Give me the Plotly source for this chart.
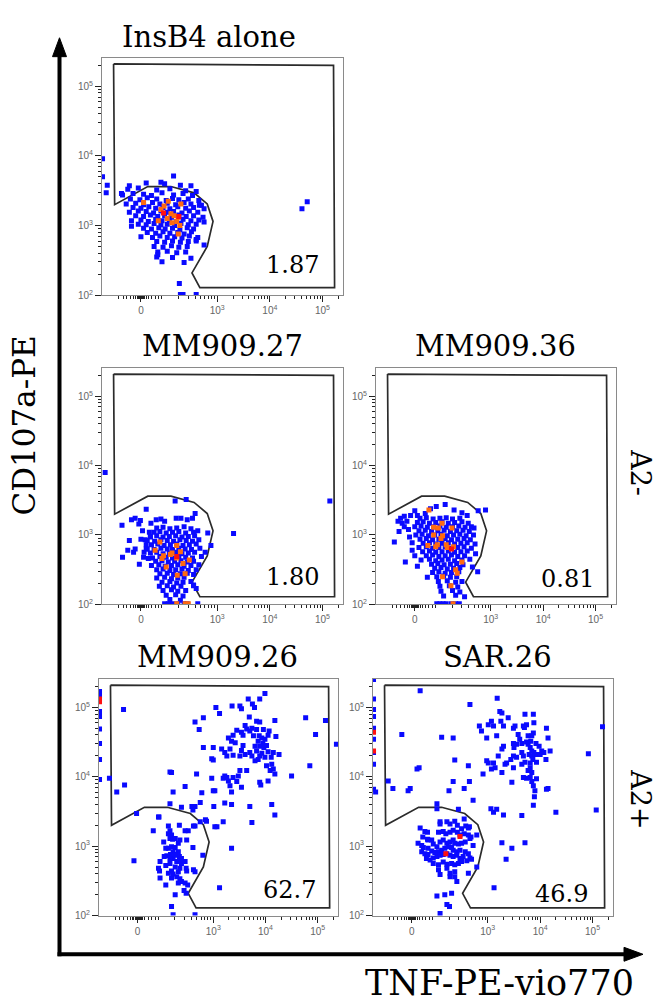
import math
import plotly.graph_objects as go

W, H = 661, 1008

# ---------------- data (display units) ----------------
# x: TNF-PE-vio770 on the biexponential display scale (0 -> 0, 1e3 -> 1.45, 1e4 -> 2.45, 1e5 -> 3.45)
# y: log10 of CD107a-PE intensity
x_tick_vals = [0.0, 1.45, 2.45, 3.45]
x_tick_text = ["0", "10<sup>3</sup>", "10<sup>4</sup>", "10<sup>5</sup>"]
y_tick_vals = [2, 3, 4, 5]
y_tick_text = ["10<sup>2</sup>", "10<sup>3</sup>", "10<sup>4</sup>", "10<sup>5</sup>"]

gate_x = [-0.52, 3.66, 3.68, 1.12, 0.97, 1.26, 1.37, 1.26, 1.01, 0.57, 0.13, -0.50, -0.52]
gate_y = [5.32, 5.30, 2.11, 2.11, 2.32, 2.70, 3.06, 3.31, 3.47, 3.56, 3.56, 3.30, 5.32]

titles = ["InsB4 alone", "MM909.27", "MM909.36", "MM909.26", "SAR.26"]
percents = ["1.87", "1.80", "0.81", "62.7", "46.9"]

insb4_blue = [
    (0.10,3.61),(0.45,3.60),(0.75,3.58),(0.95,3.57),
    (-0.25,3.52),(-0.05,3.54),(0.30,3.51),(0.55,3.53),(0.85,3.50),(1.05,3.49),
    (-0.35,3.44),(-0.15,3.46),(0.05,3.45),(0.20,3.43),(0.40,3.47),(0.62,3.44),(0.80,3.46),(0.98,3.43),
    (-0.20,3.38),(-0.02,3.37),(0.12,3.40),(0.30,3.38),(0.48,3.36),(0.60,3.39),(0.72,3.37),(0.90,3.38),(1.10,3.36),
    (-0.28,3.31),(-0.10,3.32),(0.05,3.30),(0.22,3.33),(0.36,3.31),(0.50,3.32),(0.66,3.30),(0.82,3.33),(0.95,3.31),(1.15,3.29),
    (-0.15,3.26),(0.00,3.25),(0.15,3.27),(0.28,3.25),(0.42,3.26),(0.55,3.24),(0.70,3.27),(0.85,3.25),(1.00,3.26),(1.20,3.24),
    (-0.22,3.19),(-0.05,3.21),(0.10,3.20),(0.24,3.18),(0.38,3.21),(0.50,3.19),(0.62,3.20),(0.78,3.18),(0.92,3.21),(1.08,3.19),
    (-0.10,3.14),(0.05,3.13),(0.18,3.15),(0.32,3.13),(0.45,3.14),(0.58,3.12),(0.72,3.15),(0.86,3.13),(1.00,3.14),(1.18,3.12),
    (-0.18,3.07),(0.00,3.08),(0.14,3.06),(0.28,3.09),(0.40,3.07),(0.54,3.08),(0.68,3.06),(0.80,3.09),(0.95,3.07),(1.10,3.08),
    (-0.05,3.02),(0.10,3.01),(0.25,3.03),(0.38,3.01),(0.50,3.02),(0.64,3.00),(0.76,3.03),(0.90,3.01),(1.05,3.02),
    (0.05,2.96),(0.20,2.95),(0.34,2.97),(0.46,2.95),(0.60,2.96),(0.74,2.94),(0.88,2.97),(1.00,2.95),
    (0.12,2.90),(0.28,2.89),(0.42,2.91),(0.55,2.89),(0.70,2.90),(0.82,2.88),(0.96,2.91),
    (0.00,2.84),(0.22,2.83),(0.36,2.85),(0.50,2.83),(0.64,2.84),(0.78,2.82),(0.92,2.85),(1.08,2.83),
    (0.30,2.77),(0.45,2.76),(0.60,2.78),(0.75,2.76),(0.90,2.77),(1.05,2.78),
    (0.25,2.70),(0.42,2.69),(0.58,2.71),(0.72,2.69),(0.88,2.70),(1.20,2.72),
    (0.32,2.62),(0.50,2.63),(0.68,2.61),(0.85,2.62),
    (0.30,2.55),(0.60,2.54),(0.95,2.53),(0.40,2.48),(0.82,2.47),
    (-0.73,3.96),(-0.73,3.70),(-0.64,3.58),(-0.66,3.47),(-0.37,3.46),(-0.22,3.57),(0.62,3.71),(0.38,3.62),
    (0.73,2.17),(0.75,2.01),(0.80,2.01),(1.05,2.01),(3.06,3.24),(3.16,3.34),(0.32,2.58),(-0.18,2.99),
    (1.05,2.80),(1.20,3.05),(1.11,3.29),
]
insb4_orange = [(0.05,3.33),(0.38,3.23),(0.44,3.28),(0.52,3.35),(0.57,3.17),(0.63,3.14),(0.71,3.12),
                (0.50,3.10),(0.33,3.07),(0.59,3.04),(0.68,3.06),(0.74,3.00),(0.76,3.31),(0.71,2.88)]
insb4_red = [(0.43,3.18),(0.72,3.13)]

mm27_blue = [
    (-0.36,3.14),(-0.18,3.22),(-0.11,3.24),(-0.01,3.21),(0.10,3.37),(-0.04,3.16),(0.19,3.17),(0.29,3.22),
    (0.38,3.23),(0.45,3.20),(0.67,3.24),(0.76,3.24),(0.88,3.22),(0.98,3.24),(1.03,3.31),(1.08,3.06),
    (1.27,3.03),(1.33,2.85),(0.03,3.06),(0.16,3.04),(0.00,2.94),(0.08,2.93),(0.18,2.97),(-0.35,2.68),
    (-0.25,2.78),(-0.14,2.75),(-0.03,2.58),(-0.11,2.80),(0.06,2.75),(0.12,2.80),(0.14,2.66),(0.10,2.86),(-0.22,2.92),
    (0.30,3.10),(0.42,3.11),(0.55,3.09),(0.68,3.10),(0.82,3.12),(0.95,3.09),
    (0.25,3.04),(0.36,3.05),(0.48,3.03),(0.60,3.04),(0.72,3.05),(0.85,3.03),(1.00,3.04),
    (0.18,2.98),(0.30,2.99),(0.42,2.97),(0.54,2.98),(0.66,2.99),(0.78,2.97),(0.90,2.98),(1.02,2.99),
    (0.12,2.92),(0.26,2.91),(0.38,2.93),(0.50,2.92),(0.62,2.91),(0.74,2.93),(0.86,2.92),(0.98,2.91),(1.10,2.93),
    (0.20,2.86),(0.32,2.87),(0.44,2.85),(0.56,2.86),(0.68,2.87),(0.80,2.85),(0.92,2.86),(1.05,2.87),
    (0.10,2.80),(0.25,2.79),(0.38,2.81),(0.50,2.80),(0.60,2.79),(0.72,2.81),(0.84,2.80),(0.96,2.79),(1.12,2.81),
    (0.18,2.74),(0.30,2.75),(0.42,2.73),(0.54,2.74),(0.66,2.75),(0.78,2.73),(0.90,2.74),(1.02,2.75),
    (0.05,2.68),(0.22,2.67),(0.36,2.69),(0.48,2.68),(0.60,2.67),(0.72,2.69),(0.85,2.68),(0.98,2.67),(1.15,2.69),
    (0.28,2.62),(0.40,2.63),(0.52,2.61),(0.64,2.62),(0.76,2.63),(0.88,2.61),(1.00,2.62),
    (0.20,2.56),(0.34,2.57),(0.46,2.55),(0.58,2.56),(0.70,2.57),(0.82,2.55),(0.95,2.56),(1.10,2.57),
    (0.30,2.50),(0.42,2.51),(0.55,2.49),(0.66,2.50),(0.78,2.51),(0.90,2.49),(1.05,2.50),
    (0.36,2.44),(0.50,2.45),(0.62,2.43),(0.75,2.44),(0.88,2.45),(1.00,2.43),
    (0.30,2.38),(0.45,2.39),(0.58,2.37),(0.70,2.38),(0.82,2.39),
    (0.40,2.32),(0.55,2.33),(0.68,2.31),(0.80,2.32),(0.95,2.33),
    (0.35,2.26),(0.50,2.27),(0.62,2.25),(0.76,2.26),(1.00,2.27),
    (0.42,2.20),(0.58,2.21),(0.70,2.19),(0.85,2.20),
    (0.48,2.13),(0.66,2.14),(0.80,2.12),(0.55,2.07),(0.75,2.06),
    (0.45,2.01),(0.52,2.01),(0.60,2.01),(0.70,2.01),(0.82,2.01),(0.88,2.01),(1.08,2.01),
    (-0.68,3.90),(0.65,3.49),(0.86,3.51),(1.76,3.02),(3.59,3.49),(1.05,2.23),(1.00,2.28),(1.22,2.75),
]
mm27_orange = [(0.36,2.90),(0.68,2.85),(0.59,2.74),(0.56,2.72),(0.43,2.70),(0.40,2.66),(0.75,2.76),(0.68,2.67),
               (0.92,2.64),(0.48,2.54),(0.80,2.59),(0.69,2.42),(0.84,2.44),(0.68,2.01),(0.84,2.01),(0.90,2.01),(0.27,2.78)]
mm27_red = [(0.68,2.69)]

mm36_blue = [
    (-0.27,3.24),(-0.24,3.17),(-0.15,3.20),(0.00,3.35),(-0.08,3.28),(-0.39,2.90),(-0.20,3.12),(-0.05,2.89),
    (-0.18,2.61),(0.00,2.70),(-0.10,2.97),(0.24,2.39),(0.41,3.41),(0.58,3.44),(1.35,3.36),(1.21,3.35),
    (1.13,3.10),(1.16,2.73),(1.20,2.47),(1.10,2.54),(-0.30,3.05),(-0.12,3.08),(0.05,3.28),(0.20,3.31),
    (0.30,3.38),(0.75,3.36),(0.90,3.32),(1.00,3.28),(-0.32,3.20),(-0.20,3.27),(-0.05,2.78),(0.05,2.55),
    (0.10,3.24),(0.22,3.25),(0.35,3.23),(0.48,3.24),(0.60,3.25),(0.72,3.23),(0.86,3.24),
    (0.05,3.18),(0.16,3.19),(0.28,3.17),(0.40,3.18),(0.52,3.19),(0.64,3.17),(0.76,3.18),(0.90,3.19),(1.02,3.17),
    (0.00,3.12),(0.12,3.13),(0.24,3.11),(0.36,3.12),(0.48,3.13),(0.60,3.11),(0.72,3.12),(0.84,3.13),(0.96,3.11),(1.08,3.12),
    (0.08,3.06),(0.20,3.07),(0.32,3.05),(0.44,3.06),(0.56,3.07),(0.68,3.05),(0.80,3.06),(0.92,3.07),(1.04,3.05),
    (0.02,3.00),(0.14,3.01),(0.26,2.99),(0.38,3.00),(0.50,3.01),(0.62,2.99),(0.74,3.00),(0.86,3.01),(0.98,2.99),(1.12,3.00),
    (0.10,2.94),(0.22,2.95),(0.34,2.93),(0.46,2.94),(0.58,2.95),(0.70,2.93),(0.82,2.94),(0.94,2.95),(1.06,2.93),
    (0.16,2.88),(0.28,2.89),(0.40,2.87),(0.52,2.88),(0.64,2.89),(0.76,2.87),(0.88,2.88),(1.00,2.89),(1.15,2.87),
    (0.08,2.82),(0.22,2.83),(0.34,2.81),(0.46,2.82),(0.58,2.83),(0.70,2.81),(0.82,2.82),(0.94,2.83),(1.08,2.81),
    (0.15,2.76),(0.28,2.77),(0.40,2.75),(0.52,2.76),(0.64,2.77),(0.76,2.75),(0.88,2.76),(1.00,2.77),
    (0.22,2.70),(0.34,2.71),(0.46,2.69),(0.58,2.70),(0.70,2.71),(0.82,2.69),(0.95,2.70),
    (0.12,2.64),(0.28,2.65),(0.40,2.63),(0.52,2.64),(0.64,2.65),(0.76,2.63),(0.90,2.64),(1.05,2.65),
    (0.32,2.58),(0.44,2.59),(0.56,2.57),(0.68,2.58),(0.80,2.59),(0.92,2.57),
    (0.38,2.52),(0.50,2.53),(0.62,2.51),(0.74,2.52),(0.86,2.53),
    (0.34,2.46),(0.46,2.47),(0.58,2.45),(0.70,2.46),(0.84,2.47),
    (0.42,2.40),(0.55,2.41),(0.68,2.39),(0.80,2.40),
    (0.45,2.33),(0.62,2.34),(0.78,2.32),(0.90,2.33),
    (0.48,2.26),(0.66,2.27),(0.82,2.25),(0.50,2.19),(0.72,2.20),(0.86,2.18),
    (0.55,2.12),(0.78,2.13),(0.95,2.11),
    (0.42,2.01),(0.48,2.01),(0.54,2.01),(0.60,2.01),(0.70,2.01),(0.78,2.01),(0.85,2.01),
]
mm36_orange = [(0.27,3.36),(0.36,3.11),(0.45,3.10),(0.52,3.17),(0.71,3.10),(0.36,3.00),(0.53,2.99),(0.50,2.95),
               (0.25,2.85),(0.43,2.86),(0.40,2.83),(0.62,2.82),(0.74,2.83),(0.90,2.61),(0.53,2.40),(0.69,2.27),
               (0.78,2.50),(0.81,2.45),(0.73,2.01),(0.60,2.86)]
mm36_red = [(0.70,2.80)]

mm26_blue = [
    (2.44,5.20),(2.12,5.12),(2.34,5.12),(1.96,5.02),(1.99,4.98),(2.20,5.05),(2.24,5.00),(1.81,5.02),
    (1.50,5.00),(1.57,4.91),(1.26,4.85),(1.10,4.79),(1.18,4.68),(-0.27,4.97),(2.14,4.86),(2.28,4.80),
    (2.34,4.79),(2.63,4.81),(3.22,4.85),(3.60,4.81),(3.41,4.61),(3.81,4.47),(2.06,4.74),(2.09,4.69),
    (1.90,4.67),(1.99,4.64),(2.02,4.60),(2.19,4.70),(2.15,4.66),(2.22,4.59),(2.28,4.68),(2.41,4.68),
    (2.52,4.66),(2.50,4.60),(2.33,4.59),(2.38,4.56),(2.44,4.54),(2.31,4.51),(2.40,4.48),(2.34,4.44),
    (2.25,4.44),(2.42,4.42),(2.47,4.45),(2.28,4.37),(2.38,4.34),(2.34,4.30),(2.44,4.28),(2.31,4.25),
    (2.50,4.36),(2.65,4.58),(1.74,4.56),(1.83,4.60),(1.80,4.51),(1.87,4.49),(2.02,4.45),(1.99,4.38),
    (2.06,4.32),(1.96,4.30),(1.83,4.31),(1.71,4.30),(1.67,4.35),(1.77,4.40),(1.26,4.42),(1.45,4.42),
    (1.61,4.40),(1.42,4.26),(1.45,4.24),(2.15,4.35),(2.19,4.30),(2.25,4.23),(2.56,4.28),(2.60,4.35),
    (2.71,4.32),(2.57,4.18),(2.60,4.11),(2.63,4.04),(2.54,4.09),(2.47,4.16),(2.95,4.01),(3.30,4.16),
    (2.09,4.09),(1.96,4.09),(1.93,4.01),(1.83,3.99),(1.67,4.01),(1.64,3.98),(1.71,3.99),(1.13,4.04),
    (0.62,4.07),(0.65,4.06),(1.42,3.98),(1.74,3.94),(1.90,3.93),(2.34,3.92),(2.36,3.88),(2.50,3.94),
    (1.77,3.87),(1.99,3.85),(0.91,3.86),(1.45,3.80),(1.48,3.80),(0.68,3.78),(1.23,3.77),(1.80,3.78),
    (1.67,3.62),(1.80,3.60),(1.20,3.63),(0.62,3.61),(1.04,3.57),(1.10,3.57),(1.06,3.52),(0.84,3.56),
    (1.46,3.57),(2.15,3.57),(2.57,3.60),(2.63,3.45),(2.19,3.34),(1.64,3.35),(1.52,3.28),(1.30,3.38),
    (1.20,3.35),(0.40,3.42),(-0.02,3.47),(-0.54,3.98),(-0.25,3.88),(-0.40,3.78),
    (-0.73,5.23),(-0.73,5.16),(-0.73,4.94),(-0.73,4.87),(-0.73,4.69),(-0.73,4.48),(-0.73,4.25),(-0.73,3.96),
    (0.30,3.22),(0.41,3.42),(0.59,3.29),(0.62,3.22),(0.59,3.18),(0.65,3.16),(0.80,3.30),(0.97,3.22),
    (0.91,3.22),(0.94,3.09),(0.81,3.09),(0.78,3.04),(1.07,3.29),(1.10,3.29),(0.62,3.11),(0.67,3.10),
    (0.72,3.11),(0.59,2.97),(0.65,2.99),(0.72,2.98),(0.68,2.92),(0.78,2.92),(0.63,2.88),(0.56,2.86),
    (0.51,2.85),(0.68,2.82),(0.80,2.85),(0.75,2.78),(0.84,2.75),(0.91,2.78),(0.62,2.75),(0.54,2.72),
    (0.72,2.70),(0.40,2.68),(0.42,2.64),(0.65,2.64),(0.78,2.63),(0.93,2.68),(0.94,2.64),(0.68,2.60),
    (0.75,2.56),(0.81,2.53),(0.84,2.49),(0.78,2.47),(0.65,2.54),(0.43,2.54),(0.54,2.44),(0.91,2.47),
    (0.96,2.44),(1.07,2.66),(1.10,2.63),(1.25,2.87),(1.06,2.98),(-0.07,2.79),(0.89,2.36),(0.93,2.32),
    (0.72,2.30),(0.65,2.13),(0.68,2.01),(1.10,2.01),(1.80,2.97),(1.57,2.40),(1.48,3.28),(1.32,3.36),
    (1.07,3.57),(0.50,3.06),(0.75,2.88),(0.62,2.82),(0.81,2.68),(0.59,2.61),(0.72,2.87),(0.54,2.97),
    (0.84,2.82),(0.43,2.78),
]
mm26_red = [(-0.73,5.12),(-0.73,5.08)]

sar26_blue = [
    (-0.73,5.40),(-0.73,5.12),(-0.73,4.97),(-0.73,4.87),(-0.73,4.70),(-0.73,4.54),(-0.73,4.35),(-0.73,4.18),
    (-0.73,3.82),(-0.69,3.78),
    (0.16,5.24),(1.11,5.04),(1.63,5.13),(1.68,4.94),(1.72,4.92),(1.84,4.85),(1.46,4.75),(1.52,4.80),
    (1.56,4.73),(1.70,4.80),(1.75,4.73),(1.29,4.73),(1.33,4.66),(1.94,4.70),(1.97,4.73),(2.13,4.73),
    (2.15,4.71),(2.19,4.75),(2.32,4.90),(2.16,4.90),(2.33,4.78),(2.32,4.63),(2.29,4.59),(2.57,4.70),
    (2.60,4.56),(2.03,4.61),(2.06,4.54),(2.10,4.48),(2.00,4.47),(1.94,4.48),(1.95,4.42),(2.19,4.50),
    (2.22,4.47),(2.26,4.42),(2.29,4.37),(2.24,4.32),(2.33,4.35),(2.38,4.32),(2.29,4.30),(2.45,4.32),
    (2.43,4.44),(2.22,4.59),(2.27,4.51),(2.37,4.48),(2.31,4.25),(2.38,4.21),(2.26,4.20),(2.16,4.21),
    (2.48,4.37),(2.52,4.35),(2.64,4.37),(2.56,4.25),(2.10,4.35),(2.13,4.30),(2.00,4.28),(1.94,4.30),
    (1.89,4.25),(1.81,4.20),(1.78,4.18),(1.94,4.13),(2.10,4.18),(1.43,4.56),(1.62,4.59),(1.75,4.44),
    (1.65,4.30),(1.43,4.23),(1.46,4.20),(1.56,4.20),(1.59,4.13),(1.36,4.04),(1.52,4.11),(1.72,4.40),
    (2.26,4.13),(2.22,4.09),(2.29,4.06),(2.26,3.99),(2.19,3.98),(2.29,3.93),(2.32,3.87),(2.35,3.80),
    (2.34,3.71),(2.32,3.59),(2.38,3.97),(2.60,3.83),(2.57,3.82),(2.13,3.99),(1.91,3.92),(1.72,4.06),
    (3.37,4.33),(3.64,4.72),(3.52,3.52),(2.75,3.49),(2.10,3.44),(1.75,3.45),(1.56,3.49),(1.51,3.54),
    (1.62,3.53),(1.08,4.16),(1.10,3.93),(1.17,3.66),(1.00,3.83),(0.82,4.24),(0.79,3.93),(0.71,3.80),
    (0.57,4.57),(0.79,4.56),(-0.19,4.61),(0.10,4.11),(0.14,4.13),(-0.45,3.94),(-0.36,3.83),(-0.07,3.80),
    (-0.03,3.83),(0.48,3.61),(0.48,3.54),(0.89,3.53),(1.00,3.39),(1.10,3.28),(1.08,3.26),(1.24,3.16),
    (1.13,3.13),(1.72,3.05),(1.91,2.97),(1.80,2.81),(2.16,3.05),(1.57,2.40),
    (0.16,3.26),(0.25,3.21),(0.30,3.20),(0.21,3.13),(0.30,3.10),(0.38,3.09),(0.31,3.09),(0.54,3.35),
    (0.54,3.32),(0.67,3.35),(0.73,3.32),(0.82,3.36),(0.87,3.30),(0.95,3.25),(1.03,3.29),(0.51,3.20),
    (0.60,3.21),(0.65,3.18),(0.73,3.20),(0.79,3.23),(0.87,3.20),(0.92,3.16),(1.00,3.18),(1.08,3.16),
    (0.12,3.04),(0.19,3.01),(0.22,2.98),(0.31,2.97),(0.41,3.03),(0.48,2.99),(0.54,3.06),(0.60,3.09),
    (0.67,3.04),(0.73,3.06),(0.79,3.09),(0.82,3.04),(0.89,3.03),(0.95,3.04),(1.02,3.06),(1.11,3.11),
    (1.17,3.01),(0.19,2.92),(0.25,2.89),(0.31,2.88),(0.38,2.93),(0.44,2.91),(0.51,2.92),(0.57,2.94),
    (0.63,2.97),(0.70,2.99),(0.76,2.98),(0.79,2.94),(0.86,2.92),(0.92,2.94),(1.02,2.92),(1.08,2.89),
    (0.28,2.82),(0.35,2.80),(0.41,2.83),(0.48,2.85),(0.54,2.87),(0.60,2.88),(0.67,2.89),(0.73,2.87),
    (0.79,2.85),(0.86,2.87),(0.92,2.82),(0.98,2.85),(1.11,2.83),(0.41,2.75),(0.51,2.73),(0.60,2.77),
    (0.67,2.74),(0.76,2.75),(0.82,2.73),(0.89,2.75),(0.95,2.78),(1.05,2.79),(1.14,2.81),(1.24,2.70),
    (0.51,2.66),(0.54,2.59),(0.67,2.68),(0.73,2.61),(0.82,2.63),(1.08,2.61),(0.86,2.49),(0.82,2.56),
    (0.73,2.56),(0.63,2.30),(0.76,2.32),(0.48,2.28),(0.67,2.16),(0.72,2.13),(0.54,2.03),
]
sar26_red = [(-0.73,4.64),(-0.73,4.37),(0.92,3.14),(0.65,2.89)]

blue_sets = [insb4_blue, mm27_blue, mm36_blue, mm26_blue, sar26_blue]
orange_sets = [insb4_orange, mm27_orange, mm36_orange, [], []]
red_sets = [insb4_red, mm27_red, mm36_red, mm26_red, sar26_red]

# ---------------- layout geometry (pixels) ----------------
boxes = [(102, 343, 58, 297), (102, 343, 370, 608), (376, 616, 370, 608),
         (99, 338, 683, 921), (373, 613, 683, 921)]
title_pos = [(209, 37), (222, 348), (495, 348), (217, 661), (497, 661)]
pct_pos = [(3.43, 2.43), (3.43, 2.39), (3.46, 2.37), (3.46, 2.37), (3.41, 2.31)]

X_RANGE = [-0.74, 3.84]
Y_RANGE = [2.0, 5.41]

def pxx(x):
    return x / W

def pxy(y):
    return 1 - y / H

# minor tick positions (biexponential region near zero, then log decades)
x_minor = [-0.42, -0.34, -0.27, -0.2, -0.14, -0.1, -0.07, -0.05, -0.03, -0.015,
           0.015, 0.03, 0.05, 0.07, 0.1, 0.14, 0.2, 0.27, 0.34, 0.40]
x_minor += [0.40 + 1.05 * math.log10(m) for m in range(2, 10)]
for d in (1.45, 2.45, 3.45):
    for m in range(2, 10):
        v = d + math.log10(m)
        if v < X_RANGE[1]:
            x_minor.append(v)
y_minor = []
for d in (2, 3, 4, 5):
    for m in range(2, 10):
        v = d + math.log10(m)
        if v < Y_RANGE[1]:
            y_minor.append(v)

SERIF = "DejaVu Serif"
fig = go.Figure()
layout = dict(width=W, height=H, margin=dict(l=0, r=0, t=0, b=0),
              paper_bgcolor="white", plot_bgcolor="white", showlegend=False)

annotations = []
for i in range(5):
    n = "" if i == 0 else str(i + 1)
    xa, ya = "x" + n, "y" + n
    x0, x1, y0, y1 = boxes[i]
    layout["xaxis" + n] = dict(
        domain=[pxx(x0), pxx(x1)], range=X_RANGE, anchor=ya,
        showline=True, mirror=True, linecolor="#8a8a8a", linewidth=1,
        showgrid=False, zeroline=False,
        tickmode="array", tickvals=x_tick_vals, ticktext=x_tick_text,
        ticks="outside", ticklen=6, tickwidth=1.2, tickcolor="#222",
        tickfont=dict(family="Liberation Sans", size=10, color="#666"),
        minor=dict(tickmode="array", tickvals=x_minor, ticks="outside", ticklen=3,
                   tickwidth=1, tickcolor="#222", showgrid=False),
    )
    layout["yaxis" + n] = dict(
        domain=[pxy(y1), pxy(y0)], range=Y_RANGE, anchor=xa,
        showline=True, mirror=True, linecolor="#8a8a8a", linewidth=1,
        showgrid=False, zeroline=False,
        tickmode="array", tickvals=y_tick_vals, ticktext=y_tick_text,
        ticks="outside", ticklen=6, tickwidth=1.2, tickcolor="#222",
        tickfont=dict(family="Liberation Sans", size=10, color="#666"),
        minor=dict(tickmode="array", tickvals=y_minor, ticks="outside", ticklen=3,
                   tickwidth=1, tickcolor="#222", showgrid=False),
    )
    # gate
    fig.add_trace(go.Scatter(x=gate_x, y=gate_y, xaxis=xa, yaxis=ya, mode="lines",
                             line=dict(color="#2b2b2b", width=1.7), hoverinfo="skip"))
    for pts, col in ((blue_sets[i], "#0a0aff"), (orange_sets[i], "#ff6a10"), (red_sets[i], "#ff1010")):
        if not pts:
            continue
        fig.add_trace(go.Scatter(x=[p[0] for p in pts], y=[p[1] for p in pts], xaxis=xa, yaxis=ya,
                                 mode="markers",
                                 marker=dict(symbol="square", size=5, color=col, line=dict(width=0))))
    annotations.append(dict(x=pct_pos[i][0], y=pct_pos[i][1], xref=xa, yref=ya, text=percents[i],
                            showarrow=False, xanchor="right", yanchor="middle",
                            font=dict(family=SERIF, size=24, color="black")))
    tx, ty = title_pos[i]
    annotations.append(dict(x=pxx(tx), y=pxy(ty), xref="paper", yref="paper", text=titles[i],
                            showarrow=False, xanchor="center", yanchor="middle",
                            font=dict(family=SERIF, size=29, color="black")))

side_labels = [("A2-", 641, 475, 90, 27), ("A2+", 641, 804, 90, 27),
               ("CD107a-PE", 24, 428, -90, 31), ("TNF-PE-vio770", 500, 989, 0, 35)]
for txt, x, y, ang, size in side_labels:
    annotations.append(dict(x=pxx(x), y=pxy(y), xref="paper", yref="paper", text=txt,
                            showarrow=False, xanchor="center", yanchor="middle", textangle=ang,
                            font=dict(family=SERIF, size=size, color="black")))

shapes = [
    dict(type="line", xref="paper", yref="paper", x0=pxx(59.5), x1=pxx(59.5), y0=pxy(52), y1=pxy(962),
         line=dict(color="black", width=4)),
    dict(type="path", xref="paper", yref="paper",
         path=f"M {pxx(52.5)} {pxy(57)} L {pxx(59.5)} {pxy(38)} L {pxx(66.5)} {pxy(57)} Z",
         fillcolor="black", line=dict(color="black", width=1)),
    dict(type="line", xref="paper", yref="paper", x0=pxx(57.5), x1=pxx(628), y0=pxy(960), y1=pxy(960),
         line=dict(color="black", width=4)),
    dict(type="path", xref="paper", yref="paper",
         path=f"M {pxx(624)} {pxy(953)} L {pxx(643)} {pxy(960)} L {pxx(624)} {pxy(967)} Z",
         fillcolor="black", line=dict(color="black", width=1)),
]

layout["annotations"] = annotations
layout["shapes"] = shapes
fig.update_layout(**layout)
fig.write_html("out.html")
